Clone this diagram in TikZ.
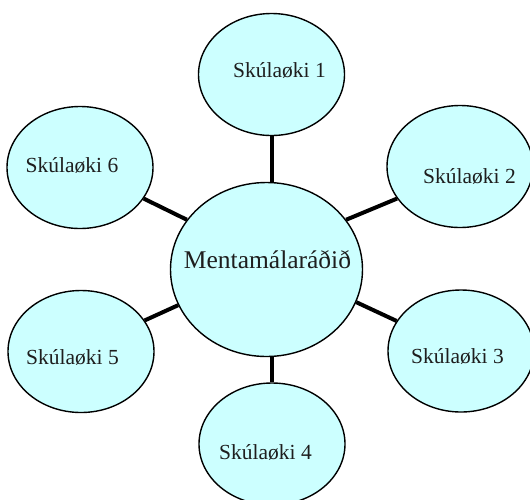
\documentclass[tikz,border=0pt]{standalone}
\usepackage{fontspec}
\setmainfont{Liberation Serif}
\usetikzlibrary{shapes.geometric}
\definecolor{bubble}{RGB}{204,255,255}
\definecolor{ink}{RGB}{30,30,30}
\tikzset{
  school/.style={ellipse, draw=black, line width=1.4pt, fill=bubble,
    minimum width=146pt, minimum height=122pt, inner sep=0pt},
  hub/.style={ellipse, draw=black, line width=1.4pt, fill=bubble,
    minimum width=192pt, minimum height=174pt, inner sep=0pt},
  lbl/.style={text=ink, font=\fontsize{21.5}{24}\selectfont, inner sep=0pt},
  hublbl/.style={text=ink, font=\fontsize{25.5}{28}\selectfont, inner sep=0pt},
  spoke/.style={line width=4pt, black}
}
\begin{document}
\begin{tikzpicture}[x=1pt,y=-1pt]
\useasboundingbox (0,0) rectangle (530,499);
\node[hub, label={[hublbl,xshift=1pt,yshift=9.5pt]center:Mentamálaráðið}] (c) at (266.5,269.5) {};
\node[school, label={[lbl,xshift=8pt,yshift=4.5pt]center:Skúlaøki 1}] (s1) at (271.5,74.5) {};
\node[school, label={[lbl,xshift=9.5pt,yshift=-9.5pt]center:Skúlaøki 2}] (s2) at (460,166.5) {};
\node[school, label={[lbl,xshift=-3.5pt,yshift=-5pt]center:Skúlaøki 3}] (s3) at (461,351) {};
\node[school, label={[lbl,xshift=-6.5pt,yshift=-8pt]center:Skúlaøki 4}] (s4) at (272,444) {};
\node[school, label={[lbl,xshift=-8.5pt,yshift=-5.5pt]center:Skúlaøki 5}] (s5) at (81,351.5) {};
\node[school, label={[lbl,xshift=-8pt,yshift=2.5pt]center:Skúlaøki 6}] (s6) at (80,167.5) {};
\draw[spoke] (s1.south) -- (s1.south |- c.north);
\draw[spoke] (s4.north) -- (s4.north |- c.south);
\draw[spoke] (c.32) -- (s2.207);
\draw[spoke] (c.-20) -- (s3.155);
\draw[spoke] (c.202) -- (s5.26);
\draw[spoke] (c.148) -- (s6.-26);
\end{tikzpicture}
\end{document}
